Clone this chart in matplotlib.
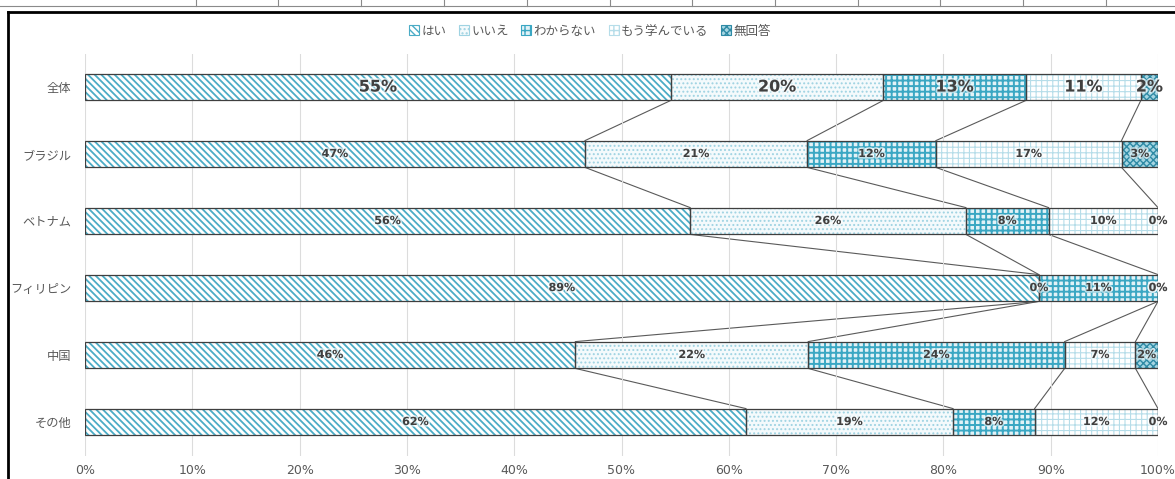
import numpy as np
import matplotlib
matplotlib.use("Agg")
import matplotlib.pyplot as plt
import matplotlib.patheffects as pe
from matplotlib.patches import Patch
from matplotlib.lines import Line2D

# データ
categories = ["全体", "ブラジル", "ベトナム", "フィリピン", "中国", "その他"]
series = ["はい", "いいえ", "わからない", "もう学んでいる", "無回答"]
hai = [54.6, 46.6, 56.4, 88.9, 45.7, 61.6]
iie = [19.8, 20.7, 25.7, 0.0, 21.7, 19.3]
wakaranai = [13.3, 12.0, 7.7, 11.1, 23.9, 7.6]
manabu = [10.7, 17.3, 10.2, 0.0, 6.6, 11.5]
mukaitou = [1.6, 3.4, 0.0, 0.0, 2.1, 0.0]
xticks = [0, 10, 20, 30, 40, 50, 60, 70, 80, 90, 100]

values = np.array([hai, iie, wakaranai, manabu, mukaitou])

# 模様の設定 (face, hatch, hatch color, hatch linewidth)
styles = [
    ("white", "\\\\\\\\\\", "#4bacc6", 1.3),
    ("#f4fafc", "....", "#9fd3e2", 0.9),
    ("#e2f2f7", "+++", "#3aa7c3", 1.4),
    ("white", "+++", "#b6dde9", 0.8),
    ("#a6d6e3", "xxxxx", "#2e8aa5", 1.0),
]

plt.rcParams["font.family"] = ["Noto Sans CJK JP", "DejaVu Sans"]

W, H = 1175, 479
fig = plt.figure(figsize=(W / 100, H / 100), dpi=100)
ax = fig.add_axes([85 / W, 1 - 455.5 / H, (1158 - 85) / W, (455.5 - 53.5) / H])

y = np.arange(len(categories))
bh = 0.4
left = np.zeros(len(categories))
glow = [pe.withStroke(linewidth=2.5, foreground="white", alpha=0.6)]
for k, (face, hatch, hcol, hlw) in enumerate(styles):
    plt.rcParams["hatch.linewidth"] = hlw
    ax.barh(y, values[k], left=left, height=bh, color=face, hatch=hatch,
            edgecolor=hcol, linewidth=0, zorder=2)
    ax.barh(y, values[k], left=left, height=bh, fill=False,
            edgecolor="#3f3f3f", linewidth=0.9, zorder=3)
    for i in range(len(categories)):
        v = values[k][i]
        cx = left[i] + v / 2
        big = i == 0
        ax.text(cx, y[i], f"{v:.0f}%", ha="center", va="center",
                fontsize=11.5 if big else 8, fontweight="bold",
                color="#404040", family="DejaVu Sans", zorder=4,
                path_effects=glow)
    left = left + values[k]

# 区分線
cum = np.cumsum(values, axis=0)
for i in range(len(categories) - 1):
    for k in range(len(series)):
        ax.plot([cum[k][i], cum[k][i + 1]], [y[i] + bh / 2, y[i + 1] - bh / 2],
                color="#5a5a5a", lw=0.8, zorder=1)

ax.set_xlim(0, 100)
ax.set_ylim(len(categories) - 0.5, -0.5)
ax.set_xticks(xticks)
ax.set_xticklabels([f"{t}%" for t in xticks], family="DejaVu Sans")
ax.set_yticks(y)
ax.set_yticklabels(categories)
ax.tick_params(axis="x", length=0, labelsize=9, colors="#595959", pad=6)
ax.tick_params(axis="y", length=0, labelsize=8.8, colors="#595959", pad=10)
ax.grid(axis="x", color="#dcdcdc", lw=0.8, zorder=0)
for s in ax.spines.values():
    s.set_visible(False)

# 凡例
handles = []
for face, hatch, hcol, hlw in styles:
    handles.append(Patch(facecolor=face, hatch=hatch, edgecolor=hcol))
leg = fig.legend(handles, series, loc="center", bbox_to_anchor=(590 / W, 1 - 31 / H),
                 ncol=5, frameon=False, fontsize=9, handlelength=0.8, handleheight=0.8,
                 handletextpad=0.2, columnspacing=1.0, labelcolor="#595959")
for p in leg.get_patches():
    p.set_linewidth(0.8)

# 外枠とシートの罫線
fig.add_artist(Line2D([8 / W, 8 / W], [0, 1 - 12 / H], color="black", lw=2))
fig.add_artist(Line2D([8 / W, 1], [1 - 12 / H, 1 - 12 / H], color="black", lw=2))
fig.add_artist(Line2D([0, 1], [1 - 6 / H, 1 - 6 / H], color="#8a8a8a", lw=0.8))
for sx in [196, 278, 361, 444, 527, 610, 692, 775, 858, 940, 1023, 1106]:
    fig.add_artist(Line2D([sx / W, sx / W], [1 - 6 / H, 1], color="#8a8a8a", lw=0.8))

fig.savefig("out.png", dpi=100)
plt.close(fig)
